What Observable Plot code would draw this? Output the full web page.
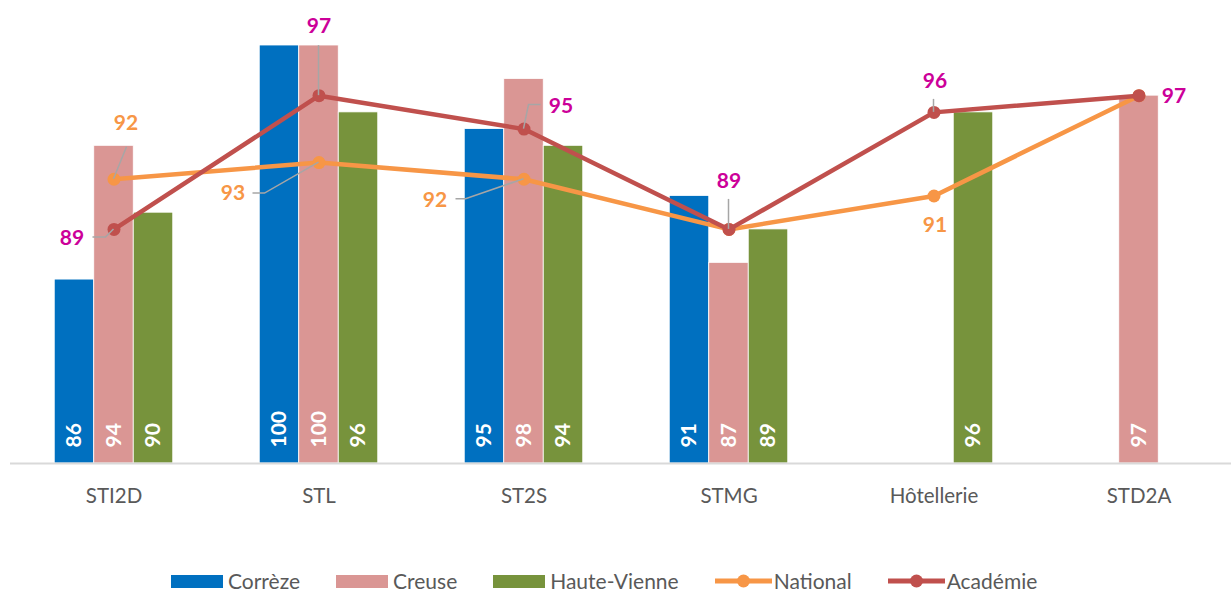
<!DOCTYPE html>
<html>
<head>
<meta charset="utf-8">
<script src="https://cdn.jsdelivr.net/npm/d3@7"></script>
<script src="https://cdn.jsdelivr.net/npm/@observablehq/plot@0.6"></script>
<style>
  html, body { margin: 0; padding: 0; background: #fff; }
  #wrap { position: relative; width: 1231px; height: 594px; }
  #legend { position: absolute; left: 171px; top: 571px; height: 20px; line-height: 20px; display: flex; align-items: center;
            font-family: Lato, "Open Sans", sans-serif; font-size: 21px; color: #595959; white-space: nowrap; }
  #legend .item { display: flex; align-items: center; margin-right: 36px; }
  #legend .item svg { margin-right: 5px; display: block; }
</style>
</head>
<body>
<div id="wrap"><div id="chart"></div><div id="legend"></div></div>
<script>
// ---- data ----
const categories = ["STI2D", "STL", "ST2S", "STMG", "Hôtellerie", "STD2A"];
const correze     = [86, 100, 95, 91, null, null];
const creuse      = [94, 100, 98, 87, null, 97];
const hauteVienne = [90, 96, 94, 89, 96, null];
const national    = [92, 93, 92, 89, 91, 97];
const academie    = [89, 97, 95, 89, 96, 97];
const barSeries = ["Corrèze", "Creuse", "Haute-Vienne"];
const lineSeries = ["National", "Académie"];

// ---- styling / placement (not data) ----
const colors = {"Corrèze": "#0070C0", "Creuse": "#DA9694", "Haute-Vienne": "#77933C", "National": "#F79646", "Académie": "#C0504D"};
const labelColors = {"National": "#F79646", "Académie": "#CC0099"};
const barShift = {"Corrèze": -39.5, "Creuse": 0, "Haute-Vienne": 39.5};
const labelPlacement = [
  {series: "National", category: "STI2D", dx: 12, dy: -56, leader: [[13, -32]]},
  {series: "Académie", category: "STI2D", dx: -42, dy: 9, leader: [[-8, 8], [-21, 8]]},
  {series: "National", category: "STL", dx: -86, dy: 31, leader: [[-54, 31], [-66, 31]]},
  {series: "Académie", category: "STL", dx: 0, dy: -69, leader: [[0, -50]]},
  {series: "Académie", category: "ST2S", dx: 37, dy: -23, leader: [[5, -24], [17, -24]]},
  {series: "National", category: "ST2S", dx: -89, dy: 21, leader: [[-58, 20], [-68, 20]]},
  {series: "Académie", category: "STMG", dx: 0, dy: -48, leader: [[0, -30]]},
  {series: "Académie", category: "Hôtellerie", dx: 1, dy: -31, leader: [[0, -13]]},
  {series: "National", category: "Hôtellerie", dx: 1, dy: 29, leader: []},
  {series: "Académie", category: "STD2A", dx: 35, dy: 1, leader: []}
];

// ---- tables ----
const barValues = {"Corrèze": correze, "Creuse": creuse, "Haute-Vienne": hauteVienne};
const lineValues = {"National": national, "Académie": academie};
const bars = barSeries.flatMap(s => categories.map((c, i) => ({series: s, category: c, value: barValues[s][i]}))).filter(d => d.value != null);
const points = lineSeries.flatMap(s => categories.map((c, i) => ({series: s, category: c, value: lineValues[s][i]})));
const valueOf = (s, c) => lineValues[s][categories.indexOf(c)];

const font = "Lato, 'Open Sans', sans-serif";
const BW = 39.5, STEP = 205;
const baseInset = (STEP - BW) / 2;

const marks = [];
for (const s of barSeries) {
  const sh = barShift[s];
  marks.push(Plot.barY(bars.filter(d => d.series === s), {
    x: "category", y1: () => 75, y2: "value", fill: colors[s], stroke: "#fff", strokeWidth: 0.8,
    insetLeft: baseInset + sh, insetRight: baseInset - sh
  }));
  marks.push(Plot.text(bars.filter(d => d.series === s), {
    x: "category", y: () => 75, text: d => String(d.value), rotate: -90, textAnchor: "start",
    lineAnchor: "middle", dx: sh, dy: -16, fill: "#fff", fontWeight: "bold", fontSize: 21
  }));
}
marks.push(Plot.ruleY([75], {stroke: "#d9d9d9", strokeWidth: 2}));
for (const s of lineSeries) {
  const pts = points.filter(d => d.series === s);
  marks.push(Plot.line(pts, {x: "category", y: "value", stroke: colors[s], strokeWidth: 4.5}));
  marks.push(Plot.dot(pts, {x: "category", y: "value", fill: colors[s], r: 6.5}));
}
// leader lines
marks.push((index, scales) => {
  const g = d3.create("svg:g");
  const x = scales.x, y = scales.y;
  const bw = typeof x.bandwidth === "function" ? x.bandwidth() : 0;
  for (const L of labelPlacement) {
    if (!L.leader.length) continue;
    const px = x(L.category) + bw / 2, py = y(valueOf(L.series, L.category));
    const pts = [[px, py], ...L.leader.map(([a, b]) => [px + a, py + b])];
    g.append("path").attr("d", d3.line()(pts)).attr("fill", "none").attr("stroke", "#a6a6a6").attr("stroke-width", 1.5);
  }
  return g.node();
});
for (const L of labelPlacement) {
  const v = valueOf(L.series, L.category);
  marks.push(Plot.text([{category: L.category, value: v}], {
    x: "category", y: "value", text: d => String(d.value), dx: L.dx, dy: L.dy,
    fill: labelColors[L.series], fontWeight: "bold", fontSize: 21, lineAnchor: "middle"
  }));
}
marks.push(Plot.axisX({tickSize: 0, tickPadding: 25, fontSize: 20.5, color: "#595959", label: null}));

const chart = Plot.plot({
  width: 1231, height: 565,
  marginLeft: 10, marginRight: 0, marginTop: 45, marginBottom: 102,
  style: {fontFamily: font, background: "#fff", overflow: "visible"},
  x: {domain: categories, range: [10.5, 1240.5], padding: 0, axis: null},
  y: {domain: [75, 100], axis: null},
  marks
});
document.getElementById("chart").appendChild(chart);

// legend
const legend = document.getElementById("legend");
for (const s of [...barSeries, ...lineSeries]) {
  const item = document.createElement("div");
  item.className = "item";
  const isLine = lineSeries.includes(s);
  const sw = isLine
    ? `<svg width="57" height="14"><line x1="0" x2="57" y1="7" y2="7" stroke="${colors[s]}" stroke-width="5"/><circle cx="28.5" cy="7" r="6.5" fill="${colors[s]}"/></svg>`
    : `<svg width="52" height="13"><rect width="52" height="13" fill="${colors[s]}"/></svg>`;
  item.innerHTML = sw + `<span>${s}</span>`;
  if (isLine) item.querySelector("svg").style.marginRight = "2px";
  legend.appendChild(item);
}
</script>
</body>
</html>
